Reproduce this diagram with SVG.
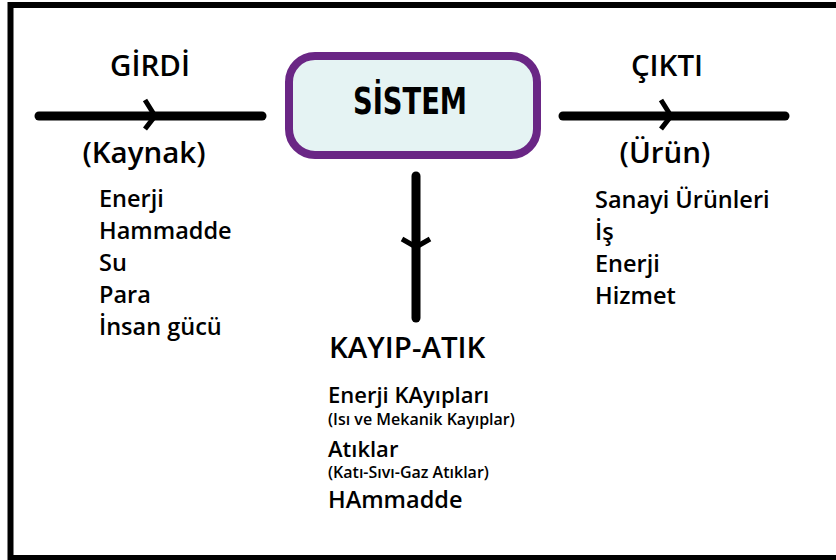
<svg xmlns="http://www.w3.org/2000/svg" width="836" height="560" viewBox="0 0 836 560">
<style>
  .t { font-family: "Open Sans", "Liberation Sans", sans-serif; fill: #000; }
  .h { font-size: 29.5px; font-weight: 560; }
  .l { font-size: 23.5px; font-weight: 600; }
  .b { font-size: 22px; font-weight: 600; }
  .s { font-size: 16px; font-weight: 600; }
  .line { stroke: #000; stroke-width: 9; stroke-linecap: round; fill: none; }
  .chev { stroke: #000; stroke-width: 5; stroke-linecap: butt; stroke-linejoin: miter; fill: none; }
</style>
<rect x="0" y="0" width="836" height="560" fill="#fff"/>
<rect x="10.5" y="5" width="840" height="553" fill="none" stroke="#000" stroke-width="6"/>

<g id="connectors">
  <line class="line" x1="39" y1="116" x2="262" y2="116"/>
  <path class="chev" d="M145,100 L155,116 L145,129"/>
  <line class="line" x1="563" y1="116" x2="785" y2="116"/>
  <path class="chev" d="M661,100 L671,116 L661,129"/>
  <line class="line" x1="416" y1="176" x2="416" y2="318"/>
  <path class="chev" d="M402,239 L416,247 L430,239"/>
</g>

<g id="sistem">
  <rect x="289" y="56" width="248" height="99" rx="26" fill="#e5f3f3" stroke="#6a2685" stroke-width="8"/>
  <text x="410" y="114" text-anchor="middle" font-family="DejaVu Sans, sans-serif" font-weight="bold" font-stretch="condensed" font-size="38" textLength="114" lengthAdjust="spacingAndGlyphs" fill="#000">SİSTEM</text>
</g>

<g id="girdi">
  <text class="t h" x="150" y="76" text-anchor="middle">GİRDİ</text>
  <text class="t h" x="144" y="163" text-anchor="middle">(Kaynak)</text>
  <text class="t l" x="99" y="207">Enerji</text>
  <text class="t l" x="99" y="239">Hammadde</text>
  <text class="t l" x="99" y="271">Su</text>
  <text class="t l" x="99" y="303">Para</text>
  <text class="t l" x="99" y="335">İnsan gücü</text>
</g>

<g id="cikti">
  <text class="t h" x="667" y="76" text-anchor="middle">ÇIKTI</text>
  <text class="t h" x="665" y="163" text-anchor="middle">(Ürün)</text>
  <text class="t l" x="595" y="208">Sanayi Ürünleri</text>
  <text class="t l" x="595" y="240">İş</text>
  <text class="t l" x="595" y="272">Enerji</text>
  <text class="t l" x="595" y="304">Hizmet</text>
</g>

<g id="kayip-atik">
  <text class="t h" x="329" y="358">KAYIP-ATIK</text>
  <text class="t b" x="328" y="403">Enerji KAyıpları</text>
  <text class="t s" x="328" y="425">(Isı ve Mekanik Kayıplar)</text>
  <text class="t b" x="328" y="457">Atıklar</text>
  <text class="t s" x="328" y="478">(Katı-Sıvı-Gaz Atıklar)</text>
  <text class="t l" x="328" y="508">HAmmadde</text>
</g>
</svg>
